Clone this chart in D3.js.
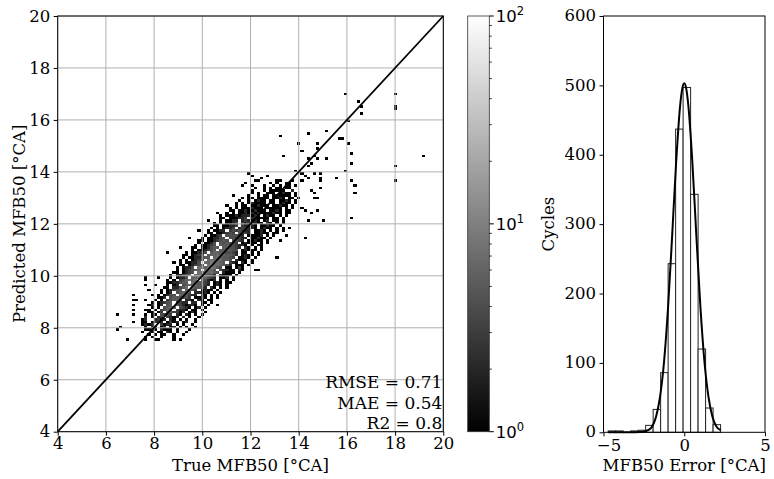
<!DOCTYPE html>
<html lang="en">
<head>
<meta charset="UTF-8">
<title>MFB50 prediction</title>
<script src="https://cdn.jsdelivr.net/npm/d3@7"></script>
<style>
  body, html { margin: 0; background: #fff; }
  svg { display: block; }
  text { font-family: "DejaVu Serif", serif; fill: #000; }
</style>
</head>
<body>
<svg width="774" height="479"></svg>
<script>
// 2d histogram bins (true MFB50 on x, predicted on y)
const xEdge0 = 6.3, xStep = 0.1295;
const yEdge0 = 7.5, yStep = 0.0955;
// [row, first column, counts per column in base 36, '.' = empty]
const densityRows = [
  [0, 4, "1.....1..11....1.1"],
  [1, 10, "1.1..1...1"],
  [2, 11, "1.1.11..1..1"],
  [3, 9, "1..1.11.21.1..1"],
  [4, 10, "1121.2111.1...1"],
  [5, 10, "1.21.12.12.1.1..1"],
  [6, 9, "1212..3122.1.1..1"],
  [7, 9, "11.1322.1312.12..1"],
  [8, 9, "12..2312.21.1.1..1"],
  [9, 10, "2.1.23.3212.2.1..1"],
  [10, 10, "1.11.4343.21.21.1.1"],
  [11, 11, "11.13.453312.121..1"],
  [12, 11, "1.1.3465.3221.11.1"],
  [13, 12, "1.1.4565.4321.12.1"],
  [14, 12, "2.12.45.4321221.1.1"],
  [15, 12, "1.12345.4322.22.11.1"],
  [16, 13, "1.1.34554.221.21.11"],
  [17, 14, "112.4554443.1121.1.1"],
  [18, 14, "1.1244.665322.21.1.1"],
  [19, 15, "1.12.45654.22121.1.1"],
  [20, 15, "1.12345.6543.1211.1"],
  [21, 16, "11.22457.65532.21.1.1"],
  [22, 17, "1.12.457675432.121.1"],
  [23, 17, "1122455.765432.121.11"],
  [24, 17, "1.1.346768.54212.1.1.1"],
  [25, 18, "1.1224.66766432.112.1"],
  [26, 18, "1.22456.7865542.2111.1"],
  [27, 19, "11.1234.7786754.2111.1"],
  [28, 20, "1.123456.7a65.42211.21"],
  [29, 20, "1.1224.7768b754.11.121"],
  [30, 21, "11.12345.7c776542.111.1"],
  [31, 21, "1.11224.76a8765.321.21.1"],
  [32, 21, "1.1.1234.78767554.2111.1"],
  [33, 22, "1.1122455.6765543.1121.1"],
  [34, 22, "11.1234.5667665542.1211.1"],
  [35, 23, "1.11224.566554432.11.1.1"],
  [36, 25, "1.112345.556544.12111.1"],
  [37, 25, "11.112455.554432.21.1.1"],
  [38, 26, "1.11234.555443221.1.11"],
  [39, 27, "1.1124.545443.12111.1.1"],
  [40, 27, "11.1123454.4432.11211.1"],
  [41, 28, "1.112244.443322.11211.1"],
  [42, 29, "1.1123.444432.11112.1.1"],
  [43, 30, "11.112343.4432.11211.11"],
  [44, 30, "1.1122.3434322.1121.1.1"],
  [45, 31, "1.1.1223.233221.1211.1.1"],
  [46, 32, "11.11223.32221.11211.1"],
  [47, 32, "1.1.1123.3232211.21.1.1"],
  [48, 34, "1.1122.232121.12.11.1"],
  [49, 34, "11.111223.221111.11.1"],
  [50, 34, "1.11121222121.1211.1.1"],
  [51, 36, "1.1.11212121111211.11"],
  [52, 37, "11.112112111.1121.11"],
  [53, 37, "1.1.1112111.11111.1.1"],
  [54, 36, "1..1.11.112111.11211.1"],
  [55, 39, "1.1.121111.11.1211.1"],
  [56, 40, "1..1.1211.11.1121.1"],
  [57, 41, "1.11.1111.1121.11.1"],
  [58, 43, "1..1.11.121111.1"],
  [59, 44, "1.1..111.1211.1"],
  [60, 44, "1...1.11111..1"],
  [61, 45, "1..1.1.11.11"],
  [62, 44, "1...1..1.1.11"],
  [63, 42, "1.......1.1..1"],
  [64, 46, "1......1"]
];
// isolated cells with a single cycle: [column, row]
const sparseCells = [
  [1, 4], [2, 5], [1, 10], [6, 7], [6, 10], [6, 12], [6, 14], [6, 16], [6, 18], [7, 16],
  [10, 12], [11, 14], [10, 16], [12, 18], [11, 20], [10, 22], [13, 22], [10, 24], [10, 25], [14, 25],
  [17, 35], [19, 31], [21, 37], [24, 41], [27, 44], [30, 48], [33, 51], [38, 58], [41, 62],
  [33, 14], [40, 29], [45, 28], [46, 28], [52, 33], [53, 40], [55, 42], [54, 44], [56, 45],
  [61, 41], [62, 48], [67, 48], [76, 49], [60, 53], [61, 52], [63, 51], [65, 52],
  [63, 60], [64, 59], [64, 57], [65, 57], [66, 61], [77, 59], [77, 62], [76, 64], [90, 64],
  [57, 60], [58, 62], [56, 63], [57, 64], [44, 66], [43, 67], [47, 65], [45, 64], [49, 66], [52, 64],
  [71, 65], [58, 68], [60, 67], [60, 64], [61, 66], [62, 65], [64, 67], [66, 67], [66, 65], [66, 64],
  [74, 68], [90, 70], [62, 70], [63, 71], [76, 71], [62, 73], [65, 73], [68, 73], [64, 74], [54, 74],
  [99, 74], [76, 75], [60, 76], [65, 77], [59, 79], [65, 79], [75, 79], [72, 81], [73, 81], [53, 82],
  [62, 83], [68, 84], [75, 88], [79, 91], [90, 93], [79, 94], [90, 94], [78, 96], [74, 99], [90, 99]
];
const metricLines = ["RMSE = 0.71", "MAE = 0.54", "R2 = 0.8"];
const scatterTicks = [4, 6, 8, 10, 12, 14, 16, 18, 20];

// error histogram
const errStart = -4.71, errWidth = 0.464;
const errCounts = [2, 2, 0, 2, 3, 10, 33, 86, 243, 437, 497, 343, 120, 35, 11];
const fitX = [-4.7, -3.5, -3, -2.5, -2.25, -2, -1.75, -1.5, -1.25, -1, -0.75, -0.5, -0.25, -0.125, 0,
  0.125, 0.25, 0.5, 0.75, 1, 1.25, 1.5, 1.75, 2, 2.25];
const fitY = [0, 0, 0, 1, 3, 8, 22, 51, 102, 181, 283, 390, 472, 495, 503,
  495, 472, 390, 283, 181, 102, 51, 22, 8, 3];
const errXTicks = [-5, 0, 5];
const errYTicks = [0, 100, 200, 300, 400, 500, 600];
const cbarTicks = [1, 10, 100];

(function(){
  const svg = d3.select('svg');
  const fs = 16.5;

  // ---- left: predicted vs true ----
  const xs = d3.scaleLinear().domain([4, 20]).range([57.7, 443.3]);
  const ys = d3.scaleLinear().domain([4, 20]).range([431.7, 16]);
  const color = d3.scaleSequentialLog(d3.interpolateRgb('#000', '#fff')).domain([1, 100]).clamp(true);

  const cells = new Map();
  function add(i, j, n){ const k = i + ',' + j; cells.set(k, (cells.get(k) || 0) + n); }
  densityRows.forEach(([j, s, str]) => [...str].forEach((ch, k) => { if (ch !== '.') add(s + k, j, parseInt(ch, 36)); }));
  sparseCells.forEach(([i, j]) => add(i, j, 1));
  const cellData = [...cells].map(([k, n]) => { const [i, j] = k.split(',').map(Number); return {i, j, n}; });

  const left = svg.append('g');
  left.append('g').attr('shape-rendering', 'crispEdges')
    .selectAll('rect').data(cellData).enter().append('rect')
      .attr('x', d => xs(xEdge0 + d.i * xStep))
      .attr('y', d => ys(yEdge0 + (d.j + 1) * yStep))
      .attr('width', d => xs(xEdge0 + (d.i + 1) * xStep) - xs(xEdge0 + d.i * xStep))
      .attr('height', d => ys(yEdge0 + d.j * yStep) - ys(yEdge0 + (d.j + 1) * yStep))
      .attr('fill', d => color(d.n));

  const grid = left.append('g').attr('stroke', '#b0b0b0').attr('stroke-width', 1);
  grid.selectAll('.gx').data(scatterTicks).enter().append('line')
    .attr('x1', d => xs(d)).attr('x2', d => xs(d)).attr('y1', ys(4)).attr('y2', ys(20));
  grid.selectAll('.gy').data(scatterTicks).enter().append('line')
    .attr('y1', d => ys(d)).attr('y2', d => ys(d)).attr('x1', xs(4)).attr('x2', xs(20));

  left.append('line').attr('x1', xs(4)).attr('y1', ys(4)).attr('x2', xs(20)).attr('y2', ys(20))
    .attr('stroke', '#000').attr('stroke-width', 1.8);

  left.append('rect').attr('x', xs(4)).attr('y', ys(20)).attr('width', xs(20) - xs(4)).attr('height', ys(4) - ys(20))
    .attr('fill', 'none').attr('stroke', '#000').attr('stroke-width', 1);

  function styleAxis(g){
    g.select('.domain').remove();
    g.selectAll('text').style('font-family', '"DejaVu Serif", serif').style('font-size', fs + 'px').attr('fill', '#000');
    g.selectAll('line').attr('stroke', '#000');
  }
  left.append('g').attr('transform', `translate(0,${ys(4)})`)
    .call(d3.axisBottom(xs).tickValues(scatterTicks).tickSize(4).tickPadding(1.5)).call(styleAxis);
  left.append('g').attr('transform', `translate(${xs(4)},0)`)
    .call(d3.axisLeft(ys).tickValues(scatterTicks).tickSize(4).tickPadding(3.5)).call(styleAxis);

  svg.append('text').attr('x', (xs(4) + xs(20)) / 2).attr('y', 471).attr('text-anchor', 'middle')
    .style('font-size', fs + 'px').text('True MFB50 [°CA]');
  svg.append('text').attr('transform', `translate(25,${(ys(4) + ys(20)) / 2}) rotate(-90)`).attr('text-anchor', 'middle')
    .style('font-size', fs + 'px').text('Predicted MFB50 [°CA]');

  left.selectAll('.metric').data(metricLines).enter().append('text')
    .attr('x', xs(20) - 1).attr('y', (d, k) => 388 + k * 20.7).attr('text-anchor', 'end')
    .style('font-size', '17px').text(d => d);

  // ---- colorbar ----
  const cx0 = 467.7, cx1 = 489.3;
  const cs = d3.scaleLog().domain([1, 100]).range([431.7, 16]);
  const grad = svg.append('defs').append('linearGradient').attr('id', 'cb')
    .attr('x1', 0).attr('y1', 1).attr('x2', 0).attr('y2', 0);
  grad.append('stop').attr('offset', 0).attr('stop-color', '#000');
  grad.append('stop').attr('offset', 1).attr('stop-color', '#fff');
  svg.append('rect').attr('x', cx0).attr('y', cs(100)).attr('width', cx1 - cx0).attr('height', cs(1) - cs(100))
    .attr('fill', 'url(#cb)').attr('stroke', '#333').attr('stroke-width', 0.8);
  const minor = [];
  [1, 10].forEach(b => d3.range(2, 10).forEach(m => minor.push(b * m)));
  svg.append('g').selectAll('line').data(minor).enter().append('line')
    .attr('x1', cx1).attr('x2', cx1 + 2.5).attr('y1', d => cs(d)).attr('y2', d => cs(d))
    .attr('stroke', '#000').attr('stroke-width', 0.8);
  const cb = svg.append('g').selectAll('g').data(cbarTicks).enter().append('g')
    .attr('transform', d => `translate(${cx1},${cs(d)})`);
  cb.append('line').attr('x2', 4.5).attr('stroke', '#000');
  const ct = cb.append('text').attr('x', 6.5).attr('y', 6)
    .style('font-family', '"DejaVu Sans", sans-serif').style('font-size', fs + 'px');
  ct.append('tspan').text('10');
  ct.append('tspan').attr('dy', -7).style('font-size', '11.5px').text(d => Math.round(Math.log10(d)));

  // ---- right: error histogram ----
  const hx = d3.scaleLinear().domain([-5, 5]).range([603.5, 765]);
  const hy = d3.scaleLinear().domain([0, 600]).range([432.3, 16]);
  const right = svg.append('g');
  right.append('g').selectAll('rect').data(errCounts).enter().append('rect')
    .attr('x', (d, k) => hx(errStart + k * errWidth))
    .attr('width', hx(errStart + errWidth) - hx(errStart))
    .attr('y', d => hy(d)).attr('height', d => hy(0) - hy(d))
    .attr('fill', '#fff').attr('stroke', '#222').attr('stroke-width', 1);
  right.append('path').datum(fitX.map((x, k) => [x, fitY[k]]))
    .attr('d', d3.line().x(d => hx(d[0])).y(d => hy(d[1])).curve(d3.curveMonotoneX))
    .attr('fill', 'none').attr('stroke', '#000').attr('stroke-width', 2);
  right.append('rect').attr('x', hx(-5)).attr('y', hy(600)).attr('width', hx(5) - hx(-5)).attr('height', hy(0) - hy(600))
    .attr('fill', 'none').attr('stroke', '#000').attr('stroke-width', 1);
  right.append('g').attr('transform', `translate(0,${hy(0)})`)
    .call(d3.axisBottom(hx).tickValues(errXTicks).tickSize(4).tickPadding(2.5).tickFormat(d => d < 0 ? '\u2212' + (-d) : d))
    .call(styleAxis)
    .selectAll('text').attr('dx', d => d < 0 ? 5 : 0);
  right.append('g').attr('transform', `translate(${hx(-5)},0)`)
    .call(d3.axisLeft(hy).tickValues(errYTicks).tickSize(4).tickPadding(3.5)).call(styleAxis)
    .selectAll('text').attr('dy', '0.28em');
  svg.append('text').attr('x', (hx(-5) + hx(5)) / 2).attr('y', 471).attr('text-anchor', 'middle')
    .style('font-size', fs + 'px').text('MFB50 Error [°CA]');
  svg.append('text').attr('transform', `translate(554,${(hy(0) + hy(600)) / 2}) rotate(-90)`).attr('text-anchor', 'middle')
    .style('font-size', fs + 'px').text('Cycles');
})();
</script>
</body>
</html>
